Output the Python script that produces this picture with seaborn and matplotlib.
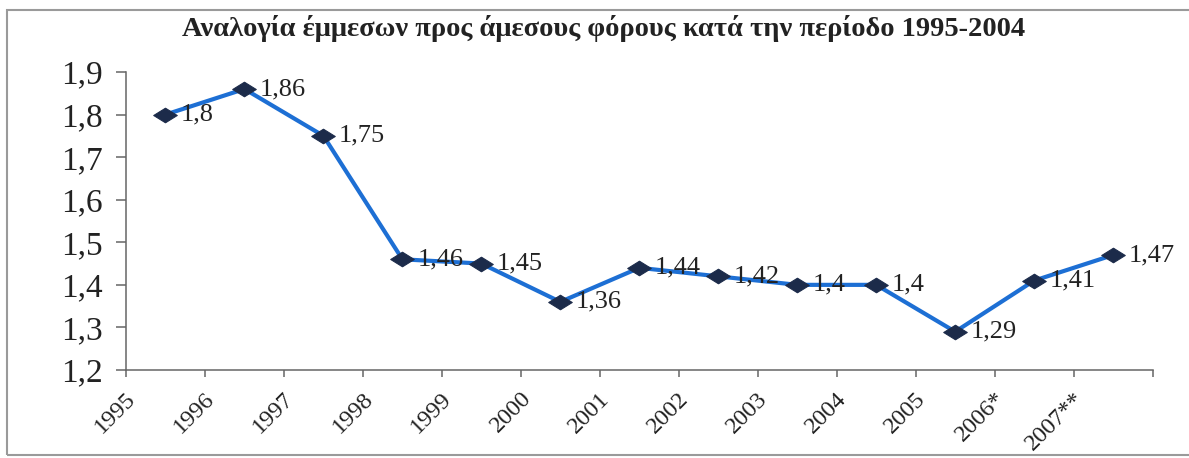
import numpy as np
import pandas as pd
import matplotlib
matplotlib.use("Agg")
import matplotlib.pyplot as plt
from matplotlib.path import Path
from matplotlib.patches import Rectangle
import seaborn as sns

# Ratio of indirect to direct taxes per year
years = ["1995", "1996", "1997", "1998", "1999", "2000", "2001",
         "2002", "2003", "2004", "2005", "2006*", "2007**"]
ratios = [1.80, 1.86, 1.75, 1.46, 1.45, 1.36, 1.44,
          1.42, 1.40, 1.40, 1.29, 1.41, 1.47]
value_labels = ["1,8", "1,86", "1,75", "1,46", "1,45", "1,36", "1,44",
                "1,42", "1,4", "1,4", "1,29", "1,41", "1,47"]
y_ticks = [1.2, 1.3, 1.4, 1.5, 1.6, 1.7, 1.8, 1.9]
y_tick_labels = ["1,2", "1,3", "1,4", "1,5", "1,6", "1,7", "1,8", "1,9"]
title = "Αναλογία έμμεσων προς άμεσους φόρους κατά την περίοδο 1995-2004"

sns.set_theme(style="white")
plt.rcParams["font.family"] = ["Liberation Serif", "DejaVu Serif"]

df = pd.DataFrame({"year": years, "ratio": ratios})

fig = plt.figure(figsize=(11.89, 4.58), dpi=100)
ax = fig.add_axes([126 / 1189, 1 - 370 / 458, (1152.6 - 126) / 1189, (370 - 72) / 458])

# flattened diamond marker
diamond = Path([(-1, 0), (0, 0.62), (1, 0), (0, -0.62), (-1, 0)],
               [Path.MOVETO, Path.LINETO, Path.LINETO, Path.LINETO, Path.CLOSEPOLY])

sns.lineplot(data=df, x="year", y="ratio", sort=False, ax=ax,
             color="#1d6fd4", linewidth=3.0,
             marker=diamond, markersize=17,
             markerfacecolor="#1c2b4a", markeredgecolor="#1c2b4a")

for i, (v, lab) in enumerate(zip(ratios, value_labels)):
    ax.annotate(lab, xy=(i, v), xytext=(11, 0), textcoords="offset points",
                ha="left", va="center", fontsize=19, color="#222222")

n = len(years)
ax.set_xlim(-0.5, n - 0.5)
ax.set_ylim(1.2, 1.9)
ax.set_yticks(y_ticks)
ax.set_yticklabels(y_tick_labels, fontsize=24, color="#222222")

# tick marks on category boundaries, labels hung just right of each boundary
ax.set_xticks(np.arange(-0.5, n, 1.0), minor=True)
ax.set_xticks(np.arange(n) - 0.32)
ax.set_xticklabels(years, fontsize=17.5, rotation=45, ha="right", va="top",
                   color="#222222")

ax.set_xlabel("")
ax.set_ylabel("")
for side in ("top", "right"):
    ax.spines[side].set_visible(False)
for side in ("left", "bottom"):
    ax.spines[side].set_color("#666666")
    ax.spines[side].set_linewidth(1.1)
ax.tick_params(axis="y", direction="out", length=7, width=1.1, color="#666666", pad=10, left=True)
ax.tick_params(axis="x", which="minor", direction="out", length=5, width=1.1,
               color="#666666", bottom=True)
ax.tick_params(axis="x", which="major", length=0, pad=13, bottom=True)

fig.text(0.508, 1 - 28 / 458, title, ha="center", va="center",
         fontsize=20.5, fontweight="bold", color="#222222")

# chart area frame
fig.patches.append(Rectangle((7 / 1189, 3 / 458), 1.2, 445 / 458,
                             transform=fig.transFigure, fill=False,
                             edgecolor="#9a9a9a", linewidth=1.5))

fig.savefig("out.png", dpi=100, facecolor="white")
